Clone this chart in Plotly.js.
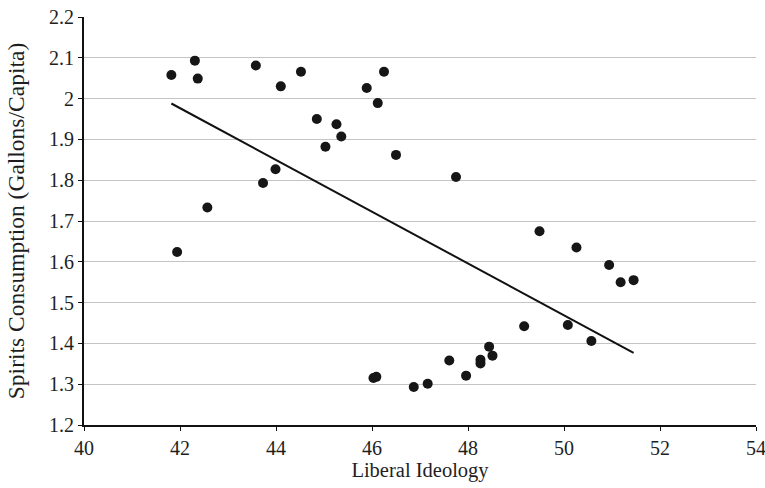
<!DOCTYPE html>
<html>
<head>
<meta charset="utf-8">
<script src="https://cdn.plot.ly/plotly-3.0.1.min.js"></script>
<style>html,body{margin:0;padding:0;background:#fff;}#chart{width:765px;height:488px;}</style>
</head>
<body>
<div id="chart"></div>
<script>
const ideology = [41.82, 42.31, 42.37, 41.94, 42.57, 43.58, 44.10, 44.52, 45.89, 46.25, 46.12,
  44.85, 45.26, 45.36, 45.03, 46.50, 43.99, 43.73, 47.75,
  46.03, 46.09, 46.87, 47.16, 47.61, 47.96, 48.26, 48.26, 48.44, 48.51, 49.17,
  49.49, 50.26, 50.94, 51.18, 51.45, 50.08, 50.57];
const spirits = [2.058, 2.093, 2.049, 1.624, 1.733, 2.081, 2.030, 2.066, 2.026, 2.066, 1.989,
  1.950, 1.937, 1.907, 1.882, 1.862, 1.827, 1.793, 1.808,
  1.315, 1.318, 1.293, 1.301, 1.358, 1.321, 1.360, 1.351, 1.392, 1.370, 1.442,
  1.675, 1.635, 1.592, 1.550, 1.555, 1.445, 1.406];
const trendX = [41.82, 51.45];
const trendY = [1.988, 1.377];
const xTicks = [40, 42, 44, 46, 48, 50, 52, 54];
const yTicks = [1.2, 1.3, 1.4, 1.5, 1.6, 1.7, 1.8, 1.9, 2.0, 2.1, 2.2];
const yTickText = ['1.2','1.3','1.4','1.5','1.6','1.7','1.8','1.9','2','2.1','2.2'];

const fam = '"Liberation Serif", "Times New Roman", serif';
const tickFont = {family: fam, size: 20, color: '#1e1e1e'};
const xTitleFont = {family: fam, size: 20.5, color: '#1e1e1e'};
const yTitleFont = {family: fam, size: 23.5, color: '#1e1e1e'};

Plotly.newPlot('chart', [
  {x: trendX, y: trendY, mode: 'lines', type: 'scatter', line: {color: '#111', width: 2}, hoverinfo: 'skip'},
  {x: ideology, y: spirits, mode: 'markers', type: 'scatter', marker: {color: '#161616', size: 10}}
], {
  width: 765, height: 488,
  margin: {l: 84, r: 9, t: 17, b: 63},
  paper_bgcolor: '#fff', plot_bgcolor: '#fff',
  showlegend: false,
  font: tickFont,
  xaxis: {
    range: [40, 54], tickvals: xTicks, ticktext: xTicks.map(String),
    showgrid: false, zeroline: false, showline: true, linecolor: '#111', linewidth: 2,
    ticks: 'outside', ticklen: 4, tickcolor: '#111', tickwidth: 1,
    tickfont: tickFont, ticklabeloverflow: 'allow', automargin: false,
    title: {text: 'Liberal Ideology', font: xTitleFont, standoff: 5}
  },
  yaxis: {
    range: [1.2, 2.2], tickvals: yTicks, ticktext: yTickText,
    showgrid: true, gridcolor: '#c4c4c4', gridwidth: 1, zeroline: false,
    showline: true, linecolor: '#111', linewidth: 2,
    ticks: 'outside', ticklen: 4, tickcolor: '#111', tickwidth: 1,
    tickfont: tickFont, automargin: false,
    title: {text: 'Spirits Consumption (Gallons/Capita)', font: yTitleFont, standoff: 18}
  }
}, {staticPlot: true});
</script>
</body>
</html>
